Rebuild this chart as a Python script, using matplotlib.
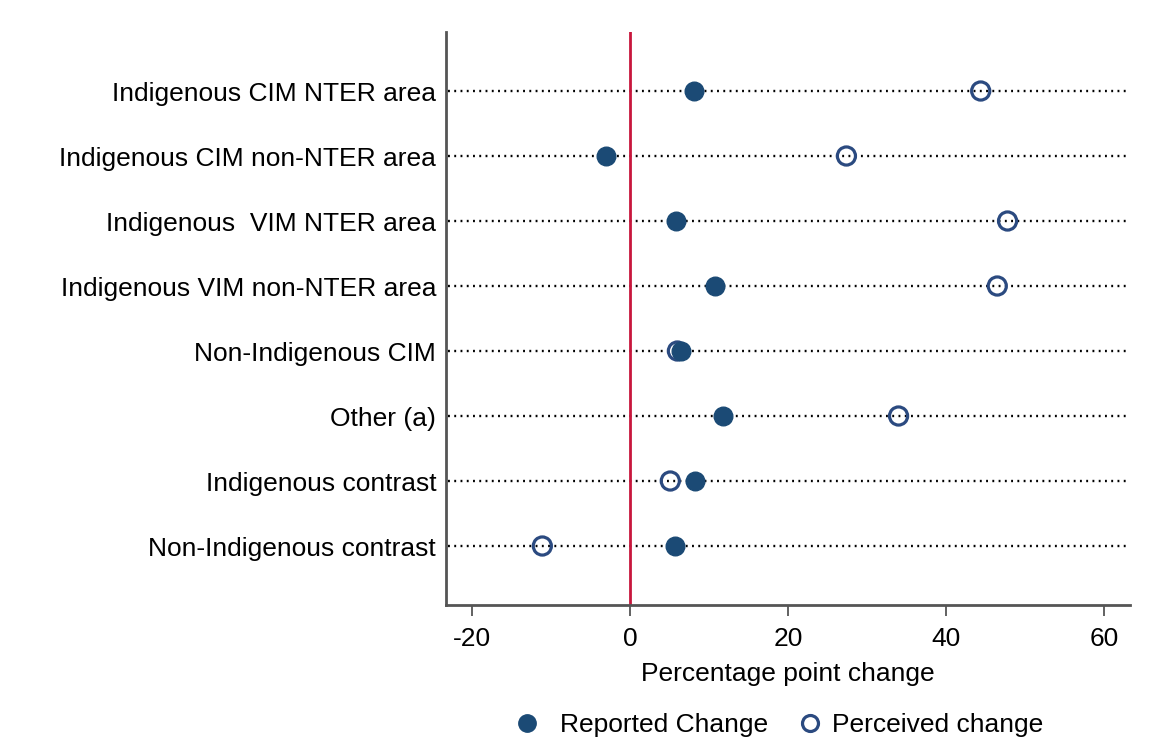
import matplotlib.pyplot as plt
from matplotlib.lines import Line2D

plt.rcParams['font.family'] = ['Liberation Sans', 'DejaVu Sans']

# data
categories = ['Indigenous CIM NTER area', 'Indigenous CIM non-NTER area',
              'Indigenous  VIM NTER area', 'Indigenous VIM non-NTER area',
              'Non-Indigenous CIM', 'Other (a)', 'Indigenous contrast',
              'Non-Indigenous contrast']
reported = [8.1, -3.1, 5.8, 10.7, 6.5, 11.8, 8.2, 5.7]
perceived = [44.4, 27.4, 47.8, 46.5, 6.0, 34.0, 5.1, -11.1]
xticks = [-20, 0, 20, 40, 60]

navy = '#1b4a75'
ring = '#2b4a80'
spine = '#555555'
fs = 19

fig = plt.figure(figsize=(11.5, 7.42), dpi=100)
ax = fig.add_axes([0.3878, 0.1846, 0.9826 - 0.3878, 0.9569 - 0.1846])

ypos = list(range(1, len(categories) + 1))
for y in ypos:
    ax.axhline(y, xmin=0.003, xmax=0.996, color='black', lw=1.7,
               ls=(0, (0.8, 1.85)), zorder=1)
ax.axvline(0, color='#c8163c', lw=2, zorder=2)

ax.scatter(reported, ypos, s=180, color=navy, zorder=4)
ax.scatter(perceived, ypos, s=170, facecolors='none', edgecolors=ring,
           linewidths=2.3, zorder=3)

ax.set_xlim(-23.3, 63.3)
ax.set_ylim(8.908, 0.092)
ax.set_yticks(ypos)
ax.set_yticklabels(categories, fontsize=fs)
ax.set_xticks(xticks)
ax.set_xticklabels([str(t) for t in xticks], fontsize=fs)
ax.tick_params(axis='y', length=0, pad=7)
ax.tick_params(axis='x', length=8, width=1.3, color=spine, pad=8)
for s in ['top', 'right']:
    ax.spines[s].set_visible(False)
for s in ['left', 'bottom']:
    ax.spines[s].set_color(spine)
    ax.spines[s].set_linewidth(2)
ax.set_xlabel('Percentage point change', fontsize=fs, labelpad=8)

# legend: two single-entry legends so the gaps match the reference
h_rep = Line2D([], [], ls='none', marker='o', ms=12.5, color=navy)
h_per = Line2D([], [], ls='none', marker='o', ms=11.5, mfc='none',
               mec=ring, mew=2.3)
common = dict(loc='center left', frameon=False, fontsize=fs, handlelength=1.0,
              borderpad=0, borderaxespad=0)
fig.legend([h_rep], ['Reported Change'], bbox_to_anchor=(514 / 1150, 0.023),
           handletextpad=0.76, **common)
fig.legend([h_per], ['Perceived change'], bbox_to_anchor=(797 / 1150, 0.023),
           handletextpad=0.34, **common)

fig.savefig('out.png', dpi=100)
